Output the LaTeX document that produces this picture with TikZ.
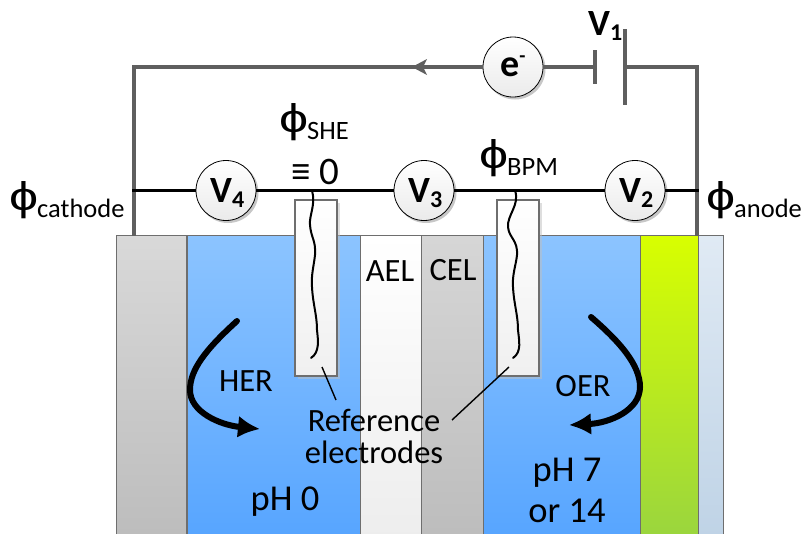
\documentclass[tikz,border=0pt]{standalone}
\usepackage{graphicx}
\usepackage{fontspec}
\setmainfont{Carlito}
\newfontfamily\phifont{Liberation Sans}
\usetikzlibrary{arrows.meta}
\definecolor{wire}{HTML}{5F5F5F}
\definecolor{edgeg}{HTML}{6E6E6E}
\definecolor{bluetop}{HTML}{8CC4FF}
\definecolor{bluebot}{HTML}{57A5FF}
\definecolor{greentop}{HTML}{D8FF00}
\definecolor{greenbot}{HTML}{9AD53E}
\definecolor{paletop}{HTML}{E0EAF4}
\definecolor{palebot}{HTML}{BFD3E6}
\tikzset{
  panel/.style={draw=edgeg,line width=1pt},
  meter/.style={circle,draw=black,line width=0.8pt,minimum size=60pt,inner sep=0pt,top color=white,bottom color=black!8},
  outerw/.style={draw=wire,line width=3.2pt},
  blackw/.style={draw=black,line width=3pt},
  plate/.style={draw=wire,line width=3.2pt},
  tube/.style={draw=edgeg,line width=1.4pt,top color=white,bottom color=black!6,minimum width=42pt,minimum height=176pt,inner sep=0pt},
  squig/.style={draw=black,line width=2pt,line cap=round},
  leader/.style={draw=black,line width=1.4pt},
  bigarrow/.style={draw=black,line width=6pt,line cap=round,-{Latex[length=22pt,width=22pt]}},
  lab/.style={inner sep=0pt,font=\fontsize{32.5}{33}\selectfont},
  ph/.style={inner sep=0pt,font=\fontsize{36.5}{37}\selectfont},
  phi/.style={inner sep=0pt,anchor=base west,font=\fontsize{26.5}{27}\selectfont},
  vlab/.style={inner sep=0pt,anchor=base west,font=\fontsize{37}{37}\selectfont\bfseries},
}
\newcommand{\bigphi}{\makebox[26pt][c]{\raisebox{7pt}{\scalebox{1.3}[1]{\fontsize{40}{40}\phifont ϕ}}}}
\newcommand{\vsub}[1]{\raisebox{-5pt}{\fontsize{24}{24}\selectfont #1}}
\begin{document}
\begin{tikzpicture}[x=1pt,y=-1pt]
\useasboundingbox[fill=white] (0,0) rectangle (805,533);
% panels
\path[panel,top color=black!15,bottom color=black!26] (116,235) rectangle (186,537);
\path[panel,top color=white,bottom color=black!7] (360,235) rectangle (421,537);
\path[panel,top color=black!16,bottom color=black!26] (421,235) rectangle (483,537);
\path[panel,top color=bluetop,bottom color=bluebot] (187,235) rectangle (360,537);
\path[panel,top color=bluetop,bottom color=bluebot] (483,235) rectangle (640,537);
\path[panel,top color=greentop,bottom color=greenbot] (640,235) rectangle (698,537);
\path[panel,top color=paletop,bottom color=palebot] (698,235) rectangle (723,537);
% tube shadows and tubes
\fill[black!25,opacity=.5] (298,203) rectangle (340,379);
\fill[black!25,opacity=.5] (500,203) rectangle (542,379);
\node[tube] (tubeA) at (316,288) {};
\node[tube] (tubeB) at (518,288) {};
% circuit
\coordinate (tl) at (134,67);
\coordinate (bl) at (134,236);
\coordinate (tr) at (697,67);
\coordinate (br) at (697,236);
\coordinate (ml) at (132.4,190.5);
\coordinate (mr) at (699,190.5);
\coordinate (p1a) at (595,50);
\coordinate (p1b) at (595,84);
\coordinate (p1m) at (595,67);
\coordinate (p2a) at (625,29);
\coordinate (p2b) at (625,105);
\coordinate (p2m) at (625,67);
\coordinate (arr) at (412,67);
\coordinate (sqA) at (312,190.5);
\coordinate (sqB) at (515,190.5);
\coordinate (ldA) at (322,367);
\coordinate (ldAe) at (336,400);
\coordinate (ldB) at (509,367);
\coordinate (ldBe) at (452,420);
\foreach \xx/\yy in {226/190.5,424/190.5,635/190.5,513/67}{\fill[black!22] (\xx+2,\yy+2) circle (30.5pt);}
\node[meter] (V4) at (226,190.5) {};
\node[meter] (V3) at (424,190.5) {};
\node[meter] (V2) at (635,190.5) {};
\node[meter] (eminus) at (513,67) {};
\draw[outerw,line join=miter] (eminus.west) -- (tl) -- (bl);
\draw[outerw] (p1m) -- (eminus.east);
\draw[outerw,line join=miter] (p2m) -- (tr) -- (br);
\fill[wire] (arr) -- (427,59) -- (423,67) -- (427,75) -- cycle;
\draw[plate] (p1a) -- (p1b);
\draw[plate] (p2a) -- (p2b);
\draw[blackw] (ml) -- (V4.west);
\draw[blackw] (V4.east) -- (V3.west);
\draw[blackw] (V3.east) -- (V2.west);
\draw[blackw] (V2.east) -- (mr);
% squiggles
\draw[squig] (sqA) .. controls (316,205) and (309,215) .. (310,225) .. controls (311,238) and (316,240) .. (315,255) .. controls (314,265) and (311,275) .. (312,287) .. controls (313,305) and (317,315) .. (317,330) .. controls (318,340) and (320,352) .. (311,358);
\draw[squig] (sqB) .. controls (520,205) and (507,215) .. (508,227) .. controls (509,238) and (518,240) .. (517,255) .. controls (516,265) and (512,275) .. (513,287) .. controls (514,305) and (518,315) .. (518,330) .. controls (519,340) and (522,352) .. (513,358);
\draw[leader] (ldA) -- (ldAe);
\draw[leader] (ldB) -- (ldBe);
% process arrows
\coordinate (ha) at (237,321);\coordinate (hb) at (260,429);
\coordinate (oa) at (591,317);\coordinate (ob) at (569,425);
\draw[bigarrow] (ha) .. controls (205,350) and (190,370) .. (190,390) .. controls (190,412) and (220,425) .. (hb);
\draw[bigarrow] (oa) .. controls (620,342) and (640,365) .. (640,387) .. controls (640,410) and (610,423) .. (ob);
% meter labels
\node[vlab] (tV4) at (210,202) {V\vsub{4}};
\node[vlab] (tV3) at (408,202) {V\vsub{3}};
\node[vlab] (tV2) at (619,202) {V\vsub{2}};
\node[vlab] (tV1) at (588,35) {V\vsub{1}};
\node[inner sep=0pt,font=\fontsize{38}{38}\selectfont\bfseries,anchor=base west] (te) at (500,76) {e\raisebox{14pt}{\fontsize{20}{20}\selectfont -}};
% potentials
\node[phi] (pc) at (11,217) {\bigphi cathode};
\node[phi] (pa) at (708,217) {\bigphi anode};
\node[phi] (ps) at (281,139) {\bigphi SHE};
\node[phi] (pb) at (481,175) {\bigphi BPM};
\node[inner sep=0pt,anchor=base west,font=\fontsize{39}{39}\selectfont] (zero) at (291,184) {≡ 0};
% layer labels
\node[lab] (ael) at (390,271) {AEL};
\node[lab] (cel) at (453,270) {CEL};
\node[lab] (her) at (246,381) {HER};
\node[lab] (oer) at (583,386) {OER};
\node[lab] (ref1) at (374,420) {Reference};
\node[lab] (ref2) at (374,452) {electrodes};
\node[ph] (ph0) at (285,502) {pH 0};
\node[ph] (ph7) at (567,473) {pH 7};
\node[ph] (or14) at (567,511) {or 14};
\end{tikzpicture}
\end{document}
